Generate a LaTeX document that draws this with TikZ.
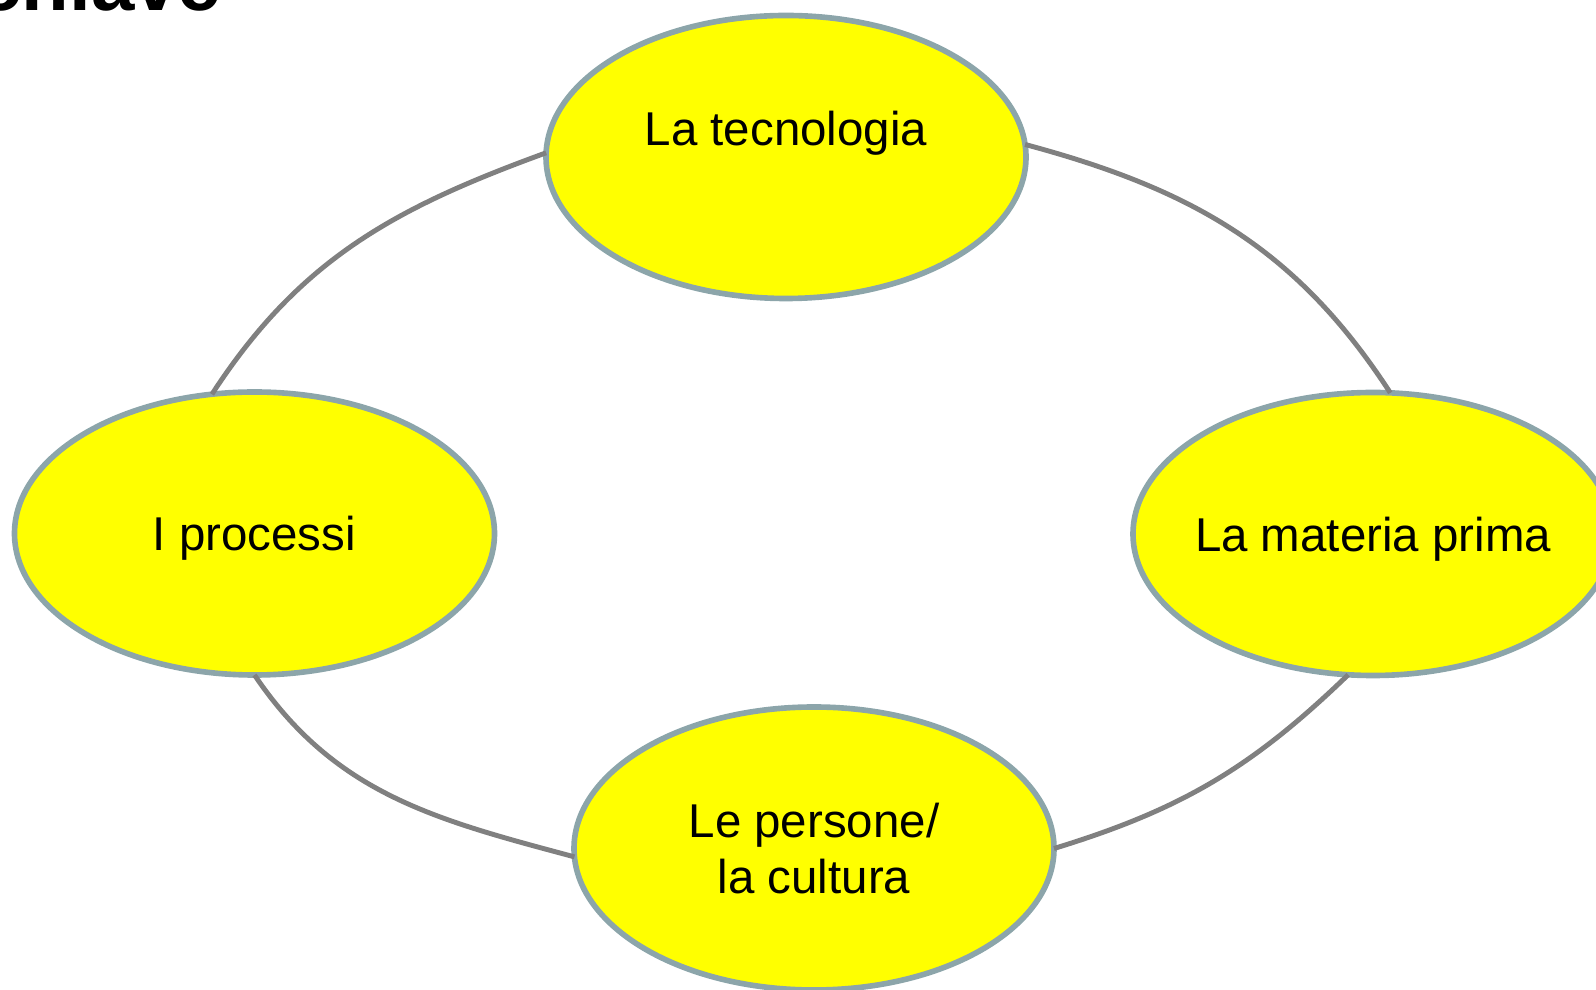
\documentclass[tikz,border=0pt]{standalone}
\usepackage{fontspec}
\setmainfont{Liberation Sans}
\usepackage{xcolor}
\usetikzlibrary{shapes.geometric}

\definecolor{jaune}{RGB}{255,255,0}
\definecolor{bord}{RGB}{140,165,170}
\definecolor{lien}{RGB}{128,128,128}

\begin{document}
\begin{tikzpicture}[
    bulle/.style={ellipse, draw=bord, line width=1.6pt, fill=jaune,
        minimum width=4.80cm, minimum height=2.83cm, inner sep=0pt, outer sep=0pt,
        align=center, font=\fontsize{13.5pt}{16.1pt}\selectfont},
    lien/.style={draw=lien, line width=1.4pt}
]
    % Cadre
    \clip (0, 0) rectangle (15.96, 9.90);

    % Titre
    \node[anchor=base east, inner sep=0pt, font=\fontsize{22.2pt}{26pt}\selectfont\bfseries] (titre) at (2.22, 9.79) {chiave};

    % Ellipses
    \node[bulle, text depth=0.566cm] (tec) at (7.86, 8.33) {La tecnologia};
    \node[bulle, text depth=0pt] (proc) at (2.545, 4.565) {I processi};
    \node[bulle, text depth=0pt, inner xsep=-0.2cm] (mat) at (13.73, 4.56) {La materia prima};
    \node[bulle] (pers) at (8.14, 1.415) {Le persone/\\la cultura};

    % Liens
    \draw[lien] (tec.179) to[out=200, in=57] (proc.107);
    \draw[lien] (tec.3) to[out=-15, in=123] (mat.83);
    \draw[lien] (proc.south) to[out=-56, in=165] (pers.182);
    \draw[lien] (mat.260) to[out=224, in=17] (pers.east);

\end{tikzpicture}
\end{document}
